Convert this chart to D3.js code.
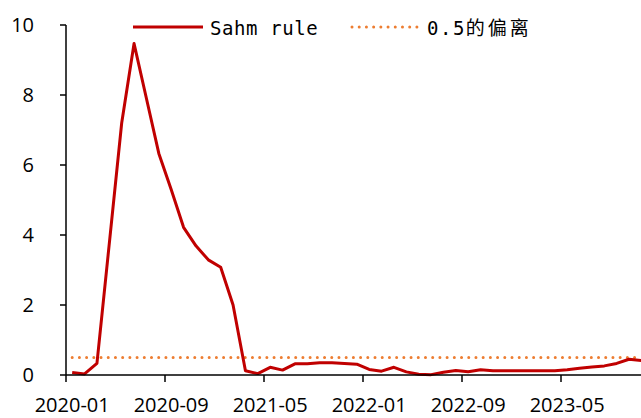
<!DOCTYPE html>
<html>
<head>
<meta charset="utf-8">
<script src="https://cdn.jsdelivr.net/npm/d3@7"></script>
<style>
  body { margin: 0; background: #fff; }
  svg { display: block; }
</style>
</head>
<body>
<svg width="641" height="418"></svg>
<script>
const width = 641;
const height = 418;

// months 2020-01 .. 2023-11
const months = d3.utcMonth.range(new Date(Date.UTC(2020, 0, 1)), new Date(Date.UTC(2023, 11, 1)))
  .map(d3.utcFormat("%Y-%m"));

const sahm = [
  0.07, 0.03, 0.33, 3.76, 7.2, 9.47, 7.9, 6.33, 5.3, 4.22,
  3.69, 3.29, 3.08, 2.0, 0.12, 0.04, 0.22, 0.14, 0.32, 0.32,
  0.35, 0.35, 0.33, 0.31, 0.16, 0.11, 0.22, 0.09, 0.02, 0.01,
  0.08, 0.13, 0.09, 0.15, 0.12, 0.12, 0.12, 0.12, 0.12, 0.12,
  0.15, 0.19, 0.23, 0.26, 0.33, 0.45, 0.41
];
const threshold = 0.5;

const tickLabels = ["2020-01", "2020-09", "2021-05", "2022-01", "2022-09", "2023-05"];
const yTicks = [0, 2, 4, 6, 8, 10];

const svg = d3.select("svg");

const x = d3.scaleBand()
  .domain(months)
  .range([66, 66 + 12.375 * months.length])
  .padding(0);

const y = d3.scaleLinear()
  .domain([0, 10])
  .range([375, 25]);

const cx = m => x(m) + x.bandwidth() / 2;

// threshold dotted line
svg.append("line")
  .attr("x1", cx(months[0]))
  .attr("x2", cx(months[months.length - 1]))
  .attr("y1", y(threshold))
  .attr("y2", y(threshold))
  .attr("stroke", "#ED7D31")
  .attr("stroke-width", 3)
  .attr("stroke-linecap", "round")
  .attr("stroke-dasharray", "0.01 7.2");

// Sahm rule line
const line = d3.line()
  .x((d, i) => cx(months[i]))
  .y(d => y(d));

svg.append("path")
  .datum(sahm)
  .attr("d", line)
  .attr("fill", "none")
  .attr("stroke", "#C00000")
  .attr("stroke-width", 3)
  .attr("stroke-linejoin", "round");

// axes
const axisColor = "#000";
const tickFont = "'Open Sans', sans-serif";

svg.append("line")
  .attr("x1", 66).attr("x2", 66)
  .attr("y1", y(10)).attr("y2", y(0))
  .attr("stroke", axisColor).attr("stroke-width", 1.5);

svg.append("line")
  .attr("x1", 66).attr("x2", width)
  .attr("y1", y(0)).attr("y2", y(0))
  .attr("stroke", axisColor).attr("stroke-width", 1.5);

svg.selectAll(".ytick")
  .data(yTicks)
  .enter().append("line")
  .attr("x1", 60).attr("x2", 66)
  .attr("y1", d => y(d)).attr("y2", d => y(d))
  .attr("stroke", axisColor).attr("stroke-width", 1.5);

svg.selectAll(".ylab")
  .data(yTicks)
  .enter().append("text")
  .attr("x", 34)
  .attr("y", d => y(d))
  .attr("dy", "0.36em")
  .attr("text-anchor", "end")
  .style("font-family", tickFont)
  .style("font-size", "20px")
  .text(d => d);

svg.selectAll(".xtick")
  .data(tickLabels)
  .enter().append("line")
  .attr("x1", d => x(d)).attr("x2", d => x(d))
  .attr("y1", y(0)).attr("y2", y(0) + 7)
  .attr("stroke", axisColor).attr("stroke-width", 1.5);

svg.selectAll(".xlab")
  .data(tickLabels)
  .enter().append("text")
  .attr("x", d => cx(d))
  .attr("y", 412)
  .attr("text-anchor", "middle")
  .style("font-family", tickFont)
  .style("font-size", "20px")
  .text(d => d);

// legend
const legFont = "'DejaVu Sans Mono', 'Noto Sans CJK SC', monospace";

svg.append("line")
  .attr("x1", 133).attr("x2", 203)
  .attr("y1", 27).attr("y2", 27)
  .attr("stroke", "#C00000").attr("stroke-width", 3);

svg.append("text")
  .attr("x", 210).attr("y", 35)
  .style("font-family", legFont)
  .style("font-size", "19px")
  .style("letter-spacing", "0.6px")
  .text("Sahm rule");

svg.append("line")
  .attr("x1", 352).attr("x2", 417)
  .attr("y1", 27).attr("y2", 27)
  .attr("stroke", "#ED7D31").attr("stroke-width", 3)
  .attr("stroke-linecap", "round")
  .attr("stroke-dasharray", "0.01 7.2");

const leg2 = svg.append("text")
  .attr("x", 427).attr("y", 35)
  .style("font-family", legFont)
  .style("font-size", "19px");
leg2.append("tspan").style("letter-spacing", "1.5px").text("0.5");
leg2.append("tspan")
  .style("font-family", "'Noto Sans CJK SC', sans-serif")
  .style("letter-spacing", "3px")
  .text("的偏离");
</script>
</body>
</html>
